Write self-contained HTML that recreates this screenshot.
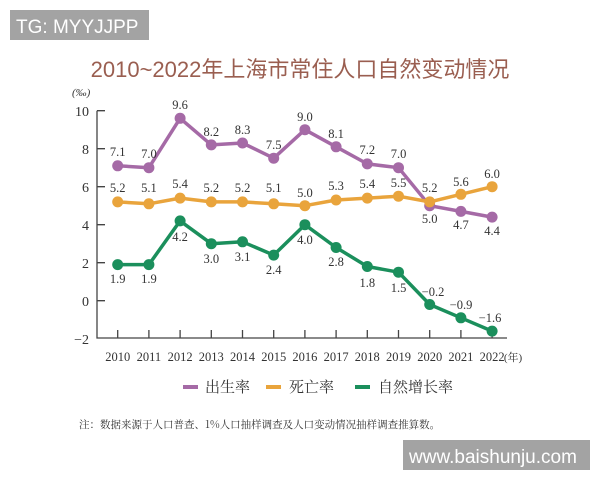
<!DOCTYPE html>
<html><head><meta charset="utf-8"><style>
body{margin:0;background:#fff}
svg{display:block}
text{font-family:"Liberation Serif","Noto Serif CJK SC",serif;fill:#333}
</style></head><body>
<svg width="600" height="480" viewBox="0 0 600 480" xmlns="http://www.w3.org/2000/svg">
<rect width="600" height="480" fill="#fff"/>
<rect x="10" y="10" width="139" height="30" fill="#a3a3a3"/>
<text x="16" y="33" font-size="19" style="font-family:'Liberation Sans',sans-serif;fill:#fff">TG: MYYJJPP</text>
<text x="300" y="77" font-size="22" text-anchor="middle" style="font-family:'Liberation Sans','Noto Sans CJK SC',sans-serif;fill:#9a5e50">2010~2022年上海市常住人口自然变动情况</text>
<text x="72" y="96" font-size="11" font-style="italic">(‰)</text>
<g font-size="14" text-anchor="end">
<text x="89" y="116">10</text><text x="89" y="154">8</text><text x="89" y="192">6</text><text x="89" y="230">4</text><text x="89" y="268">2</text><text x="89" y="306">0</text><text x="89" y="344">−2</text>
</g>
<g stroke="#444" stroke-width="1.3" fill="none">
<path d="M97 110.7V338H507"/>
<path d="M97 110.7h8M97 148.7h8M97 186.7h8M97 224.7h8M97 262.7h8M97 300.7h8"/>
<path d="M117.7 338v-8M148.9 338v-8M180.1 338v-8M211.3 338v-8M242.5 338v-8M273.7 338v-8M304.9 338v-8M336.1 338v-8M367.3 338v-8M398.5 338v-8M429.7 338v-8M460.9 338v-8M492.1 338v-8"/>
</g>
<g font-size="12.5" text-anchor="middle">
<text x="117.7" y="361">2010</text><text x="148.9" y="361">2011</text><text x="180.1" y="361">2012</text><text x="211.3" y="361">2013</text><text x="242.5" y="361">2014</text><text x="273.7" y="361">2015</text><text x="304.9" y="361">2016</text><text x="336.1" y="361">2017</text><text x="367.3" y="361">2018</text><text x="398.5" y="361">2019</text><text x="429.7" y="361">2020</text><text x="460.9" y="361">2021</text><text x="492.1" y="361">2022</text>
<text x="513" y="361" font-size="11">(年)</text>
</g>
<polyline fill="none" stroke="#a56aa6" stroke-width="3.5" stroke-linejoin="round" points="117.7,165.8 148.9,167.7 180.1,118.3 211.3,144.9 242.5,143 273.7,158.2 304.9,129.7 336.1,146.8 367.3,163.9 398.5,167.7 429.7,205.7 460.9,211.4 492.1,217.1"/>
<g fill="#a56aa6">
<circle cx="117.7" cy="165.8" r="5.5"/><circle cx="148.9" cy="167.7" r="5.5"/><circle cx="180.1" cy="118.3" r="5.5"/><circle cx="211.3" cy="144.9" r="5.5"/><circle cx="242.5" cy="143" r="5.5"/><circle cx="273.7" cy="158.2" r="5.5"/><circle cx="304.9" cy="129.7" r="5.5"/><circle cx="336.1" cy="146.8" r="5.5"/><circle cx="367.3" cy="163.9" r="5.5"/><circle cx="398.5" cy="167.7" r="5.5"/><circle cx="429.7" cy="205.7" r="5.5"/><circle cx="460.9" cy="211.4" r="5.5"/><circle cx="492.1" cy="217.1" r="5.5"/>
</g>
<polyline fill="none" stroke="#e9a43c" stroke-width="3.5" stroke-linejoin="round" points="117.7,201.9 148.9,203.8 180.1,198.1 211.3,201.9 242.5,201.9 273.7,203.8 304.9,205.7 336.1,200 367.3,198.1 398.5,196.2 429.7,201.9 460.9,194.3 492.1,186.7"/>
<g fill="#e9a43c">
<circle cx="117.7" cy="201.9" r="5.5"/><circle cx="148.9" cy="203.8" r="5.5"/><circle cx="180.1" cy="198.1" r="5.5"/><circle cx="211.3" cy="201.9" r="5.5"/><circle cx="242.5" cy="201.9" r="5.5"/><circle cx="273.7" cy="203.8" r="5.5"/><circle cx="304.9" cy="205.7" r="5.5"/><circle cx="336.1" cy="200" r="5.5"/><circle cx="367.3" cy="198.1" r="5.5"/><circle cx="398.5" cy="196.2" r="5.5"/><circle cx="429.7" cy="201.9" r="5.5"/><circle cx="460.9" cy="194.3" r="5.5"/><circle cx="492.1" cy="186.7" r="5.5"/>
</g>
<polyline fill="none" stroke="#1b8f5c" stroke-width="3.5" stroke-linejoin="round" points="117.7,264.6 148.9,264.6 180.1,220.9 211.3,243.7 242.5,241.8 273.7,255.1 304.9,224.7 336.1,247.5 367.3,266.5 398.5,272.2 429.7,304.5 460.9,317.8 492.1,331.1"/>
<g fill="#1b8f5c">
<circle cx="117.7" cy="264.6" r="5.5"/><circle cx="148.9" cy="264.6" r="5.5"/><circle cx="180.1" cy="220.9" r="5.5"/><circle cx="211.3" cy="243.7" r="5.5"/><circle cx="242.5" cy="241.8" r="5.5"/><circle cx="273.7" cy="255.1" r="5.5"/><circle cx="304.9" cy="224.7" r="5.5"/><circle cx="336.1" cy="247.5" r="5.5"/><circle cx="367.3" cy="266.5" r="5.5"/><circle cx="398.5" cy="272.2" r="5.5"/><circle cx="429.7" cy="304.5" r="5.5"/><circle cx="460.9" cy="317.8" r="5.5"/><circle cx="492.1" cy="331.1" r="5.5"/>
</g>
<g font-size="12.5" text-anchor="middle">
<text x="117.7" y="156">7.1</text><text x="148.9" y="158">7.0</text><text x="180.1" y="109">9.6</text><text x="211.3" y="136">8.2</text><text x="242.5" y="134">8.3</text><text x="273.7" y="149">7.5</text><text x="304.9" y="121">9.0</text><text x="336.1" y="138">8.1</text><text x="367.3" y="154">7.2</text><text x="398.5" y="158">7.0</text><text x="429.7" y="223">5.0</text><text x="460.9" y="229">4.7</text><text x="492.1" y="235">4.4</text>
<text x="117.7" y="192">5.2</text><text x="148.9" y="192">5.1</text><text x="180.1" y="188">5.4</text><text x="211.3" y="192">5.2</text><text x="242.5" y="192">5.2</text><text x="273.7" y="192">5.1</text><text x="304.9" y="197">5.0</text><text x="336.1" y="190">5.3</text><text x="367.3" y="188">5.4</text><text x="398.5" y="187">5.5</text><text x="429.7" y="192">5.2</text><text x="460.9" y="186">5.6</text><text x="492.1" y="178">6.0</text>
<text x="117.7" y="283">1.9</text><text x="148.9" y="283">1.9</text><text x="180.1" y="241">4.2</text><text x="211.3" y="263">3.0</text><text x="242.5" y="261">3.1</text><text x="273.7" y="274">2.4</text><text x="304.9" y="244">4.0</text><text x="336.1" y="266">2.8</text><text x="367.3" y="287">1.8</text><text x="398.5" y="292">1.5</text><text x="433" y="296">−0.2</text><text x="461" y="309">−0.9</text><text x="490" y="322">−1.6</text>
</g>
<g font-size="15" style="font-family:'Noto Serif CJK SC',serif">
<rect x="183" y="385" width="15" height="4" fill="#a56aa6"/><text x="205" y="392">出生率</text>
<rect x="266" y="385" width="15" height="4" fill="#e9a43c"/><text x="289" y="392">死亡率</text>
<rect x="355" y="385" width="15" height="4" fill="#1b8f5c"/><text x="378" y="392">自然增长率</text>
</g>
<text x="79" y="428" font-size="10.5" style="font-family:'Noto Serif CJK SC',serif">注：数据来源于人口普查、1%人口抽样调查及人口变动情况抽样调查推算数。</text>
<rect x="403" y="440" width="187" height="30" fill="#a3a3a3"/>
<text x="409" y="463" font-size="19" style="font-family:'Liberation Sans',sans-serif;fill:#fff">www.baishunju.com</text>
</svg>
</body></html>
